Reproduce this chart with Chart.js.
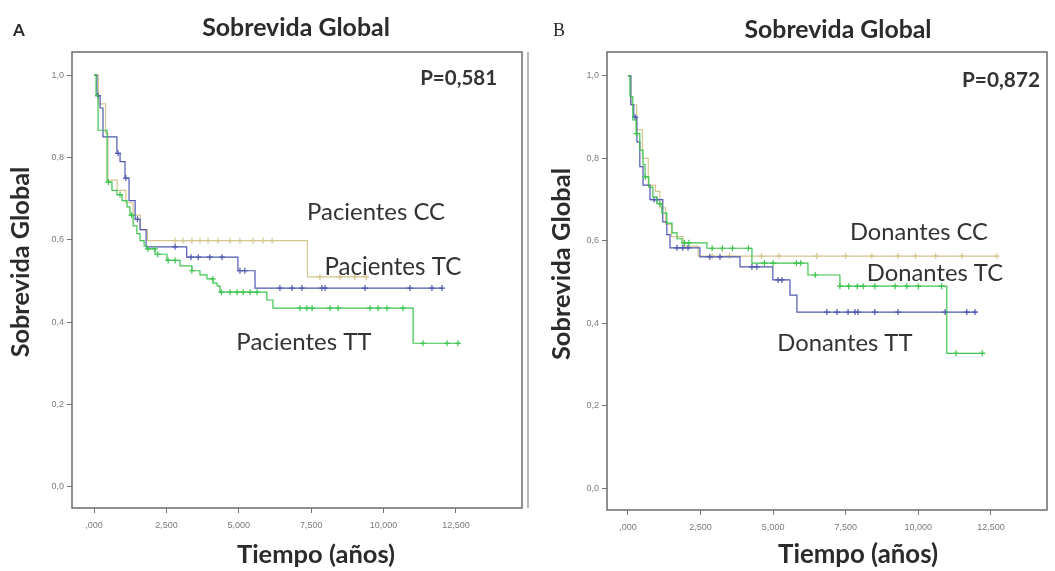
<!DOCTYPE html>
<html>
<head>
<meta charset="utf-8">
<script src="https://cdn.jsdelivr.net/npm/chart.js@4.4.1/dist/chart.umd.min.js"></script>
<style>
  body { margin: 0; background: #fff; }
  #wrap { position: relative; width: 1055px; height: 571px; }
  canvas { position: absolute; top: 0; }
</style>
</head>
<body>
<div id="wrap">
  <canvas id="panelA" width="530" height="571" style="left:0"></canvas>
  <canvas id="panelB" width="525" height="571" style="left:530px"></canvas>
</div>
<script>
// Axis ticks, SPSS style with decimal comma
const xTickValues = [0, 2.5, 5, 7.5, 10, 12.5];
const xTickLabels = [',000', '2,500', '5,000', '7,500', '10,000', '12,500'];
const yTickValues = [0, 0.2, 0.4, 0.6, 0.8, 1.0];
const yTickLabels = ['0,0', '0,2', '0,4', '0,6', '0,8', '1,0'];

// A - Pacientes (time in years, cumulative survival at each step, censored times)
const pacCCTime = [0, 0.15, 0.4, 0.48, 0.8, 1.1, 1.35, 1.6, 1.85, 7.37, 9.4];
const pacCCSurv = [1.0, 0.93, 0.86, 0.745, 0.72, 0.69, 0.66, 0.625, 0.598, 0.51, 0.51];
const pacCCCens = [2.8, 3.07, 3.38, 3.66, 3.94, 4.28, 4.7, 5.04, 5.49, 5.84, 6.15, 7.8, 8.5, 9.0, 9.4];

const pacTCTime = [0, 0.1, 0.21, 0.31, 0.79, 0.9, 1.07, 1.21, 1.42, 1.59, 1.8, 3.2, 4.97, 5.56, 12.05];
const pacTCSurv = [1.0, 0.95, 0.92, 0.85, 0.81, 0.79, 0.75, 0.695, 0.65, 0.625, 0.583, 0.558, 0.525, 0.483, 0.483];
const pacTCCens = [0.14, 0.83, 1.1, 1.5, 2.8, 3.35, 3.6, 4.0, 4.42, 5.04, 5.21, 6.42, 6.84, 7.18, 7.87, 7.98, 9.36, 10.91, 11.67, 12.02];

const pacTTTime = [0, 0.07, 0.14, 0.45, 0.62, 0.79, 0.97, 1.14, 1.24, 1.35, 1.48, 1.59, 1.73, 1.83, 2.11, 2.52, 2.97, 3.38, 3.66, 3.9, 4.11, 4.25, 4.35, 5.97, 6.18, 11.02, 12.64];
const pacTTSurv = [1.0, 0.95, 0.866, 0.74, 0.72, 0.71, 0.695, 0.68, 0.66, 0.634, 0.615, 0.598, 0.585, 0.578, 0.565, 0.55, 0.537, 0.525, 0.515, 0.505, 0.495, 0.488, 0.473, 0.454, 0.434, 0.349, 0.349];
const pacTTCens = [0.5, 0.9, 1.3, 1.86, 2.1, 2.2, 2.56, 2.8, 3.38, 4.1, 4.4, 4.7, 4.94, 5.15, 5.39, 5.63, 7.11, 7.35, 7.53, 8.15, 8.43, 9.53, 9.81, 10.12, 10.67, 11.36, 12.19, 12.57];

// B - Donantes
const donCCTime = [0, 0.1, 0.3, 0.5, 0.7, 0.95, 1.1, 1.3, 1.5, 1.9, 2.42, 12.7];
const donCCSurv = [1.0, 0.93, 0.87, 0.8, 0.735, 0.72, 0.68, 0.64, 0.61, 0.587, 0.563, 0.563];
const donCCCens = [2.9, 3.5, 4.6, 5.2, 6.5, 7.5, 8.4, 9.3, 9.9, 10.6, 11.5, 12.7];

const donTCTime = [0, 0.1, 0.2, 0.31, 0.41, 0.52, 0.76, 1.2, 1.34, 1.45, 2.48, 3.86, 4.99, 5.58, 5.82, 12.02];
const donTCSurv = [1.0, 0.93, 0.9, 0.84, 0.78, 0.735, 0.7, 0.646, 0.615, 0.583, 0.561, 0.537, 0.505, 0.468, 0.427, 0.427];
const donTCCens = [0.25, 0.9, 1.0, 1.69, 1.89, 2.07, 2.82, 3.17, 4.27, 4.44, 5.17, 5.3, 6.85, 7.2, 7.58, 7.82, 7.92, 8.5, 9.3, 10.92, 11.67, 11.95];

const donTTTime = [0, 0.07, 0.17, 0.28, 0.41, 0.52, 0.59, 0.72, 0.86, 1.0, 1.17, 1.34, 1.52, 1.69, 1.86, 2.72, 4.27, 6.2, 7.3, 10.98, 12.29];
const donTTSurv = [1.0, 0.95, 0.893, 0.86, 0.82, 0.785, 0.755, 0.73, 0.706, 0.69, 0.667, 0.643, 0.619, 0.605, 0.595, 0.582, 0.546, 0.517, 0.49, 0.327, 0.327];
const donTTCens = [0.3, 0.6, 1.1, 1.95, 2.1, 2.9, 3.25, 3.6, 4.15, 4.7, 5.0, 5.8, 5.95, 6.45, 7.3, 7.6, 7.9, 8.1, 8.5, 9.2, 9.6, 10.0, 10.8, 11.3, 12.2];

const colCC = 'rgb(212,198,142)';
const colTC = 'rgb(78,88,178)';
const colTT = 'rgb(62,196,78)';

// survival value in force at time t (step function)
function survivalAt(times, surv, t) {
  let s = surv[0];
  for (let i = 0; i < times.length; i++) {
    if (times[i] <= t) s = surv[i];
  }
  return s;
}

function kmDatasets(name, times, surv, cens, color, order) {
  return [
    {
      label: name,
      data: times.map((t, i) => ({ x: t, y: surv[i] })),
      showLine: true,
      stepped: true,
      borderColor: color,
      borderWidth: 1.2,
      pointRadius: 0,
      order: order
    },
    {
      label: name + ' censurado',
      data: cens.map(t => ({ x: t, y: survivalAt(times, surv, t) })),
      showLine: false,
      pointStyle: 'cross',
      pointRadius: 3,
      borderColor: color,
      borderWidth: 1.2,
      order: order
    }
  ];
}

// draws text scaled so it spans the given width
function fitText(ctx, text, x, y, width, weight, family, align, rotate) {
  ctx.save();
  ctx.font = weight + ' 20px ' + family;
  const size = 20 * width / ctx.measureText(text).width;
  ctx.font = weight + ' ' + size.toFixed(1) + 'px ' + family;
  ctx.textAlign = align || 'center';
  ctx.textBaseline = 'middle';
  ctx.translate(x, y);
  if (rotate) ctx.rotate(-Math.PI / 2);
  ctx.fillText(text, 0, 0);
  ctx.restore();
}

const panelText = {
  id: 'panelText',
  afterDraw(chart, args, o) {
    const { ctx, chartArea: a, scales } = chart;
    ctx.save();
    ctx.strokeStyle = '#6b6b6b';
    ctx.lineWidth = 1.5;
    ctx.strokeRect(a.left, a.top, a.right - a.left, a.bottom - a.top);
    if (o.edgeLine) {
      ctx.lineWidth = 1.2;
      ctx.strokeStyle = '#8a8a8a';
      ctx.beginPath();
      ctx.moveTo(o.edgeLine, a.top);
      ctx.lineTo(o.edgeLine, a.bottom);
      ctx.stroke();
    }
    ctx.fillStyle = '#2b2b2b';
    ctx.font = o.letter.font;
    ctx.textAlign = 'center';
    ctx.textBaseline = 'middle';
    ctx.fillText(o.letter.text, o.letter.x, o.letter.y);
    fitText(ctx, 'Sobrevida Global', o.title.x, o.title.y, o.title.width, 'bold', 'Lato');
    fitText(ctx, 'Sobrevida Global', o.yTitle.x, o.yTitle.y, o.yTitle.width, 'bold', 'Lato', 'center', true);
    fitText(ctx, 'Tiempo (años)', o.xTitle.x, o.xTitle.y, o.xTitle.width, 'bold', 'Lato');
    ctx.fillStyle = '#333';
    o.notes.forEach(n => {
      const px = scales.x.getPixelForValue(n.x);
      const py = scales.y.getPixelForValue(n.y);
      fitText(ctx, n.text, px, py, n.width, n.bold ? 'bold' : 'normal', 'Lato', n.align);
    });
    ctx.restore();
  }
};

function makePanel(id, p) {
  const tickFont = { family: 'Liberation Sans', size: 9 };
  return new Chart(document.getElementById(id), {
    type: 'scatter',
    data: { datasets: p.datasets },
    options: {
      responsive: false,
      animation: false,
      devicePixelRatio: 1,
      layout: { padding: { top: p.top, right: p.right, left: 0, bottom: 0 } },
      plugins: {
        legend: { display: false },
        tooltip: { enabled: false },
        panelText: p.text
      },
      scales: {
        x: {
          type: 'linear',
          min: p.xMin,
          max: p.xMax,
          afterBuildTicks: s => { s.ticks = xTickValues.map(v => ({ value: v })); },
          afterFit: s => { s.height = p.bottomBox; },
          ticks: {
            font: tickFont,
            color: '#7a7a7a',
            padding: 7,
            maxRotation: 0,
            callback: (v) => xTickLabels[xTickValues.indexOf(v)]
          },
          grid: { drawOnChartArea: false, drawTicks: true, tickLength: 5, color: '#777', lineWidth: 1 },
          border: { display: false }
        },
        y: {
          type: 'linear',
          min: p.yMin,
          max: p.yMax,
          afterBuildTicks: s => { s.ticks = yTickValues.map(v => ({ value: v })); },
          afterFit: s => { s.width = p.leftBox; },
          ticks: {
            font: tickFont,
            color: '#7a7a7a',
            padding: 3,
            callback: (v) => yTickLabels[yTickValues.indexOf(v)]
          },
          grid: { drawOnChartArea: false, drawTicks: true, tickLength: 5, color: '#777', lineWidth: 1 },
          border: { display: false }
        }
      }
    },
    plugins: [panelText]
  });
}

makePanel('panelA', {
  datasets: [
    ...kmDatasets('Pacientes TT', pacTTTime, pacTTSurv, pacTTCens, colTT, 0),
    ...kmDatasets('Pacientes TC', pacTCTime, pacTCSurv, pacTCCens, colTC, 1),
    ...kmDatasets('Pacientes CC', pacCCTime, pacCCSurv, pacCCCens, colCC, 2)
  ],
  xMin: -0.76, xMax: 14.78, yMin: -0.051, yMax: 1.056,
  top: 52, right: 8, leftBox: 72, bottomBox: 63,
  text: {
    edgeLine: 528,
    letter: { text: 'A', x: 19, y: 31, font: 'bold 17px Lato' },
    title: { x: 296, y: 28, width: 188 },
    yTitle: { x: 21, y: 262, width: 191 },
    xTitle: { x: 316, y: 555, width: 158 },
    notes: [
      { text: 'P=0,581', x: 13.92, y: 0.993, width: 77, bold: true, align: 'right' },
      { text: 'Pacientes CC', x: 9.74, y: 0.667, width: 138 },
      { text: 'Pacientes TC', x: 10.32, y: 0.534, width: 137 },
      { text: 'Pacientes TT', x: 7.25, y: 0.352, width: 135 }
    ]
  }
});

makePanel('panelB', {
  datasets: [
    ...kmDatasets('Donantes TT', donTTTime, donTTSurv, donTTCens, colTT, 0),
    ...kmDatasets('Donantes TC', donTCTime, donTCSurv, donTCCens, colTC, 1),
    ...kmDatasets('Donantes CC', donCCTime, donCCSurv, donCCCens, colCC, 2)
  ],
  xMin: -0.72, xMax: 14.43, yMin: -0.053, yMax: 1.058,
  top: 52, right: 8, leftBox: 77, bottomBox: 61,
  text: {
    letter: { text: 'B', x: 29, y: 31, font: '18px "Liberation Serif"' },
    title: { x: 308, y: 30, width: 187 },
    yTitle: { x: 32, y: 264, width: 192 },
    xTitle: { x: 328, y: 555, width: 160 },
    notes: [
      { text: 'P=0,872', x: 14.19, y: 0.99, width: 78, bold: true, align: 'right' },
      { text: 'Donantes CC', x: 10.02, y: 0.621, width: 138 },
      { text: 'Donantes TC', x: 10.57, y: 0.522, width: 136 },
      { text: 'Donantes TT', x: 7.47, y: 0.352, width: 135 }
    ]
  }
});
</script>
</body>
</html>
